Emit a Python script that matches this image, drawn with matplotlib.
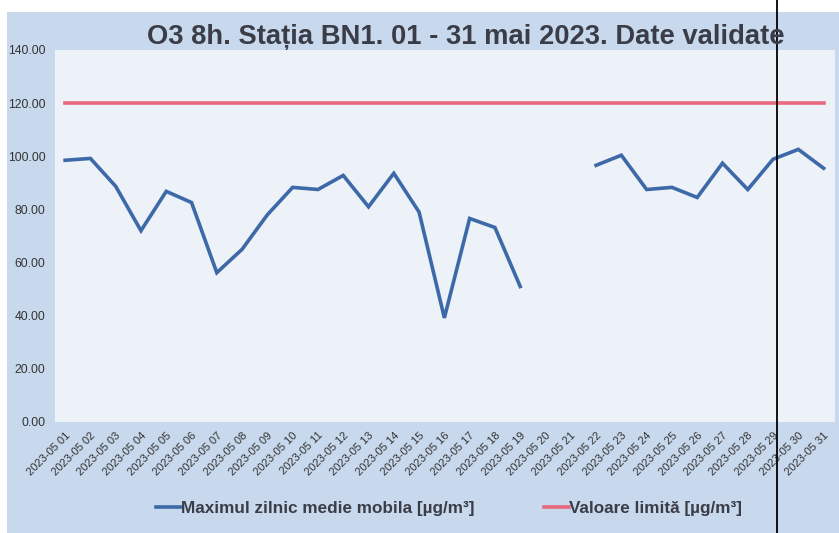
import numpy as np
import matplotlib
matplotlib.use("Agg")
import matplotlib.pyplot as plt
from matplotlib.patches import Rectangle
from matplotlib.lines import Line2D

plt.rcParams['font.family'] = ['Liberation Sans', 'DejaVu Sans']

days = list(range(1, 32))
tick_labels = [f"2023-05 {d:02d}" for d in days]
o3_max = [98.5, 99.2, 88.7, 72.0, 86.8, 82.6, 56.2, 65.0, 78.0, 88.3,
          87.5, 92.8, 81.0, 93.6, 79.0, 39.2, 76.6, 73.2, 51.0, np.nan,
          np.nan, 96.6, 100.4, 87.5, 88.3, 84.5, 97.4, 87.5, 98.9, 102.6, 95.5]
limit = [120.0] * 31
y_ticks = [0, 20, 40, 60, 80, 100, 120, 140]

W, H = 839, 533
fig = plt.figure(figsize=(W / 100, H / 100), dpi=100, facecolor='white')

# outer chart area
fig.patches.append(Rectangle((7 / W, 0), 1 - 7 / W, 1 - 12 / H, transform=fig.transFigure,
                             facecolor='#c9d9ed', edgecolor='none', zorder=-5))

ax = fig.add_axes([55 / W, 1 - 422 / H, (835 - 55) / W, (422 - 50) / H])
ax.set_zorder(1)
ax.set_facecolor('#edf1f8')
ax.plot(days, o3_max, color='#3d69a9', lw=2.6, solid_joinstyle='miter',
        label='Maximul zilnic medie mobila [µg/m³]')
ax.plot(days, limit, color='#e8687c', lw=2.6, label='Valoare limită [µg/m³]')

ax.set_xlim(0.6, 31.45)
ax.set_ylim(0, 140)
ax.set_yticks(y_ticks)
ax.set_yticklabels([f"{v:.2f}" for v in y_ticks], fontsize=8.7, color='#333333')
ax.set_xticks(days)
ax.set_xticklabels(tick_labels, rotation=45, ha='right', rotation_mode='anchor',
                   fontsize=8, color='#333333')
ax.tick_params(axis='both', length=0)
ax.tick_params(axis='y', pad=7)
ax.tick_params(axis='x', pad=6)
for s in ax.spines.values():
    s.set_visible(False)

fig.text(466 / W, 1 - 37 / H, 'O3 8h. Stația BN1. 01 - 31 mai 2023. Date validate',
         ha='center', va='center', fontsize=19.7, fontweight='bold', color='#3a3d47')

handles = [Line2D([], [], color='#3d69a9', lw=2.6), Line2D([], [], color='#e8687c', lw=2.6)]
leg = fig.legend(handles, ['Maximul zilnic medie mobila [µg/m³]', 'Valoare limită [µg/m³]'],
                 loc='center', bbox_to_anchor=(449 / W, 1 - 508 / H), ncol=2, frameon=False,
                 handlelength=1.46, handletextpad=0.0, columnspacing=4.1,
                 borderpad=0, borderaxespad=0,
                 prop={'size': 12.3, 'weight': 'bold'})
for t in leg.get_texts():
    t.set_color('#3a3d47')

# scan artifact line
fig.add_artist(Line2D([777 / W, 777 / W], [0, 1], transform=fig.transFigure, color='black', lw=1.3))

fig.savefig('out.png', dpi=100, facecolor='white')
